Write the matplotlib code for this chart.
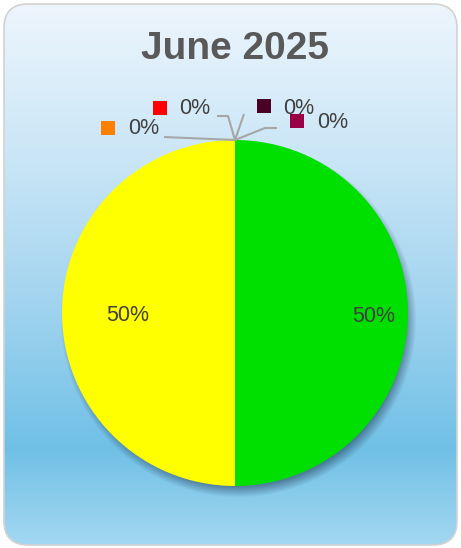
import numpy as np
import matplotlib
matplotlib.use("Agg")
import matplotlib.pyplot as plt
from matplotlib.patches import FancyBboxPatch
from matplotlib.colors import LinearSegmentedColormap

# data
title = "June 2025"
categories = ["Cat 1", "Cat 2", "Cat 3", "Cat 4", "Cat 5", "Cat 6"]
values = [50, 50, 0, 0, 0, 0]
colors = ["#00e000", "#ffff00", "#ff8000", "#ff0000", "#4a0024", "#990045"]

W, H = 461, 548
fig = plt.figure(figsize=(W / 100, H / 100), dpi=100)
ax = fig.add_axes([0, 0, 1, 1])
ax.set_xlim(0, W)
ax.set_ylim(0, H)
ax.axis("off")

# rounded card with vertical gradient (top light, darker near bottom)
card = FancyBboxPatch((4, 3), W - 8, H - 7, boxstyle="round,pad=0,rounding_size=24",
                      facecolor="none", edgecolor="#d2d2d2", lw=1.2, zorder=3)
ax.add_patch(card)
grad = LinearSegmentedColormap.from_list("bg", [
    (0.0, "#eef6fd"), (0.3, "#c8e5f6"), (0.55, "#a2d4ef"),
    (0.82, "#70c0e6"), (1.0, "#a4d8f1")])
g = np.linspace(0, 1, 256).reshape(-1, 1)
im = ax.imshow(g, cmap=grad, extent=(0, W, 0, H), origin="upper",
               aspect="auto", zorder=0)
im.set_clip_path(card)

ax.text(W / 2 + 4, H - 49, title, ha="center", va="center", fontsize=28,
        fontweight="bold", color="#595959", family="Liberation Sans", zorder=5)

cx, cy, R = 235, 235, 173

# soft shadow under the pie
yy, xx = np.mgrid[0:H, 0:W]
d = np.hypot(xx - (cx + 3), (H - yy) - (cy - 6))
alpha = 0.5 * np.clip((R + 5 - d) / 11, 0, 1)
shadow = np.zeros((H, W, 4))
shadow[..., :3] = [0.12, 0.22, 0.32]
shadow[..., 3] = alpha
ax.imshow(shadow, extent=(0, W, 0, H), aspect="auto", zorder=1, interpolation="bilinear")

wedges, _ = ax.pie(values, colors=colors, startangle=90, counterclock=False,
                   center=(cx, cy), radius=R, frame=True,
                   wedgeprops=dict(linewidth=0))
for w in wedges:
    w.set_zorder(2)
ax.set_xlim(0, W)
ax.set_ylim(0, H)
ax.axis("off")

font = dict(fontsize=15.5, color="#404040", family="Liberation Sans", zorder=5)

# percentage labels for non-zero slices (radial position as fraction of radius)
label_r = [0.8, 0.62]
total = sum(values)
k = 0
for w, v in zip(wedges, values):
    if v == 0:
        continue
    ang = np.deg2rad((w.theta1 + w.theta2) / 2)
    ax.text(cx + label_r[k] * R * np.cos(ang), cy + label_r[k] * R * np.sin(ang) - 3,
            f"{v / total:.0%}", ha="center", va="center", **font)
    k += 1

# zero slices: label offsets (key square, text, leader path) in pixels from top point
zero_layout = [
    ((-127, 12), (-107, 12), [(-71, 3), (0, 0)]),
    ((-75, 32), (-56, 31), [(-18, 24), (-7, 24), (0, 0)]),
    ((29, 34), (48, 32), [(9, 26), (0, 0)]),
    ((62, 19), (82, 18), [(42, 12), (30, 12), (0, 0)]),
]
zi = 0
for w, v, c in zip(wedges, values, colors):
    if v != 0:
        continue
    ang = np.deg2rad(w.theta1)
    px, py = cx + R * np.cos(ang), cy + R * np.sin(ang)
    (sx, sy), (tx, ty), path = zero_layout[zi]
    zi += 1
    xs = [px + p[0] for p in path]
    ys = [py + p[1] for p in path]
    ax.plot(xs, ys, color="#a6a6a6", lw=1.5, zorder=4, solid_capstyle="butt")
    ax.scatter([px + sx], [py + sy], marker="s", s=105, color=c, zorder=5, linewidths=0)
    ax.text(px + tx, py + ty, f"{v / total:.0%}", ha="left", va="center", **font)

fig.savefig("out.png", dpi=100)
